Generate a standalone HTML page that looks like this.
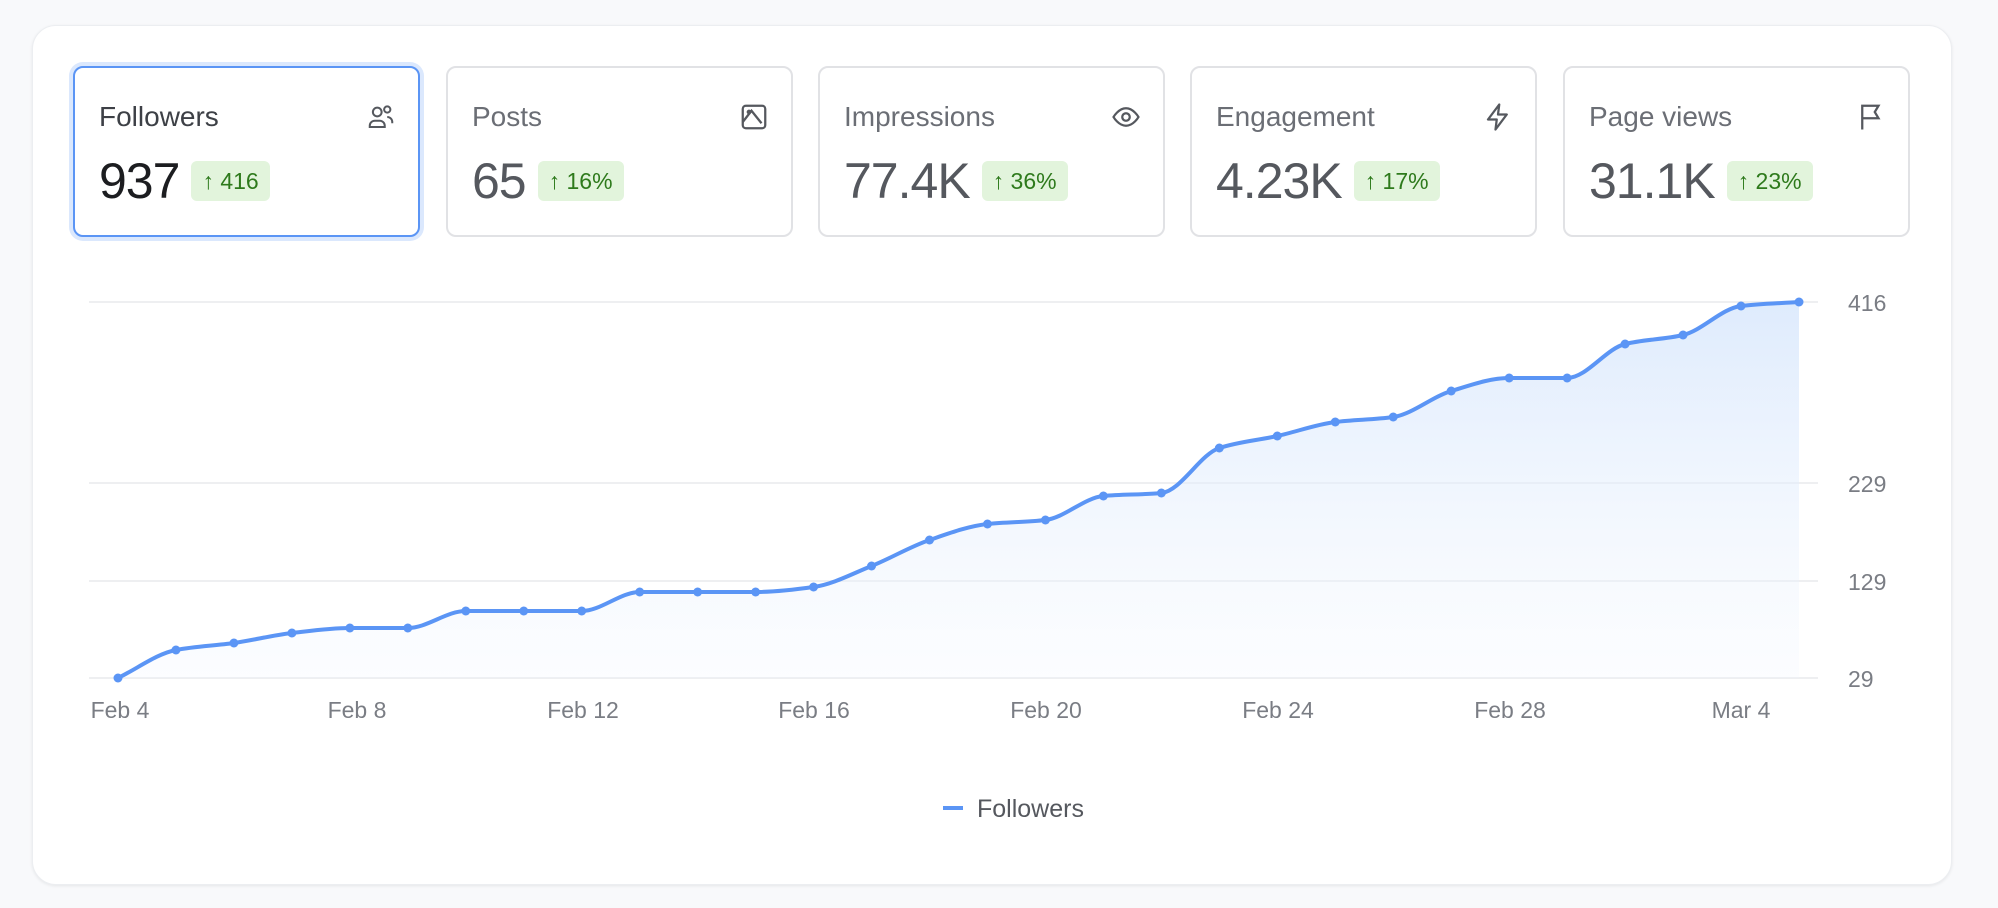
<!DOCTYPE html>
<html><head><meta charset="utf-8"><style>
body{margin:0;width:1998px;height:908px;background:#f8f9fb;font-family:"Liberation Sans",sans-serif;position:relative;overflow:hidden}
.main{position:absolute;left:32px;top:25px;width:1920px;height:860px;background:#fff;border-radius:24px;box-shadow:0 1px 3px rgba(0,0,0,.08);border:1px solid #eceef1;box-sizing:border-box}
.card{position:absolute;top:66px;width:347px;height:171px;border:2px solid #e1e2e5;border-radius:10px;box-sizing:border-box;background:#fff}
.card.sel{border-color:#5b95f5;box-shadow:0 0 0 4px #dbe8fd}
.lbl{position:absolute;left:24px;top:33px;font-size:28px;color:#6b6e75}
.sel .lbl{color:#3d4046}
.row{position:absolute;left:24px;top:83px;display:flex;align-items:center}
.num{font-size:50px;color:#55585e;letter-spacing:-1px;line-height:60px}
.sel .num{color:#1c1d20}
.badge{margin-left:12px;height:40px;line-height:40px;padding:0 11px;background:#e2f4dc;color:#2e7a1c;border-radius:6px;font-size:23px}
.ic{position:absolute;right:22px;top:34px}
.t{font-family:"Liberation Sans",sans-serif;font-size:23px;fill:#7a7d84}
</style></head><body>
<div class="main"></div>
<div class="card sel" style="left:73px"><div class="lbl">Followers</div><div class="row"><span class="num">937</span><span class="badge">↑ 416</span></div>
<svg class="ic" width="30" height="30" viewBox="0 0 24 24" fill="none" stroke="#55585e" stroke-width="1.6"><circle cx="9" cy="8" r="3.5"/><path d="M3 20v-1a4 4 0 0 1 4-4h4a4 4 0 0 1 4 4v1z"/><circle cx="17" cy="6" r="2.5"/><path d="M17 12a4 4 0 0 1 4 4v1"/></svg></div>
<div class="card" style="left:446px"><div class="lbl">Posts</div><div class="row"><span class="num">65</span><span class="badge">↑ 16%</span></div>
<svg class="ic" width="30" height="30" viewBox="0 0 24 24" fill="none" stroke="#55585e" stroke-width="1.8"><rect x="3" y="3" width="18" height="18" rx="2.5"/><path d="M3 16l7-9 8 10"/><circle cx="8" cy="8" r="1"/></svg></div>
<div class="card" style="left:818px"><div class="lbl">Impressions</div><div class="row"><span class="num">77.4K</span><span class="badge">↑ 36%</span></div>
<svg class="ic" width="30" height="30" viewBox="0 0 24 24" fill="none" stroke="#55585e" stroke-width="1.8"><path d="M2 12s4-7 10-7 10 7 10 7-4 7-10 7S2 12 2 12z"/><circle cx="12" cy="12" r="3"/></svg></div>
<div class="card" style="left:1190px"><div class="lbl">Engagement</div><div class="row"><span class="num">4.23K</span><span class="badge">↑ 17%</span></div>
<svg class="ic" width="30" height="30" viewBox="0 0 24 24" fill="none" stroke="#55585e" stroke-width="1.8" stroke-linejoin="round"><path d="M13 2L4 14h7l-1 8 9-12h-7z"/></svg></div>
<div class="card" style="left:1563px"><div class="lbl">Page views</div><div class="row"><span class="num">31.1K</span><span class="badge">↑ 23%</span></div>
<svg class="ic" width="30" height="30" viewBox="0 0 24 24" fill="none" stroke="#55585e" stroke-width="1.8"><path d="M5 22V3h13l-3 5 3 5H5"/></svg></div>

<svg id="ch" style="position:absolute;left:0;top:0" width="1998" height="908">
<defs><linearGradient id="g" x1="0" y1="0" x2="0" y2="1"><stop offset="0" stop-color="#d6e6fc" stop-opacity="0.8"/><stop offset="1" stop-color="#eef4fe" stop-opacity="0.2"/></linearGradient></defs>
<g stroke="#eeeff1" stroke-width="2">
<line x1="89" x2="1818" y1="302" y2="302"/><line x1="89" x2="1818" y1="483" y2="483"/><line x1="89" x2="1818" y1="581" y2="581"/><line x1="89" x2="1818" y1="678" y2="678"/></g>
<g><text class="t" x="1848" y="311">416</text><text class="t" x="1848" y="492">229</text><text class="t" x="1848" y="590">129</text><text class="t" x="1848" y="687">29</text>
<g text-anchor="middle"><text class="t" x="120" y="718">Feb 4</text><text class="t" x="357" y="718">Feb 8</text><text class="t" x="583" y="718">Feb 12</text><text class="t" x="814" y="718">Feb 16</text><text class="t" x="1046" y="718">Feb 20</text><text class="t" x="1278" y="718">Feb 24</text><text class="t" x="1510" y="718">Feb 28</text><text class="t" x="1741" y="718">Mar 4</text></g></g>
<path id="area" fill="url(#g)"/>
<path id="ln" fill="none" stroke="#5b95f5" stroke-width="4"/>
<g id="dots" fill="#5b95f5"></g>
<line x1="943" x2="963" y1="808" y2="808" stroke="#5b95f5" stroke-width="4"/>
<text x="977" y="817" style="font-family:'Liberation Sans',sans-serif;font-size:25px;fill:#55585e">Followers</text>
</svg>
<script>
var ys=[678,650,643,633,628,628,611,611,611,592,592,592,587,566,540,524,520,496,493,448,436,422,417,391,378,378,344,335,306,302];
var n=ys.length,x0=118,dx=(1799-118)/29,xs=ys.map((_,i)=>x0+i*dx);
var d=[],m=[];for(var i=0;i<n-1;i++)d.push((ys[i+1]-ys[i])/dx);
m[0]=d[0];m[n-1]=d[n-2];for(i=1;i<n-1;i++){m[i]=(d[i-1]*d[i]<=0)?0:2/(1/d[i-1]+1/d[i]);}
var p="M"+xs[0]+","+ys[0];
for(i=0;i<n-1;i++){p+=" C"+(xs[i]+dx/3)+","+(ys[i]+m[i]*dx/3)+" "+(xs[i+1]-dx/3)+","+(ys[i+1]-m[i+1]*dx/3)+" "+xs[i+1]+","+ys[i+1];}
document.getElementById('ln').setAttribute('d',p);
document.getElementById('area').setAttribute('d',p+" L1799,678 L118,678 Z");
var g=document.getElementById('dots'),h="";
for(i=0;i<n;i++)h+='<circle cx="'+xs[i]+'" cy="'+ys[i]+'" r="4.5"/>';
g.innerHTML=h;
</script>
</body></html>
